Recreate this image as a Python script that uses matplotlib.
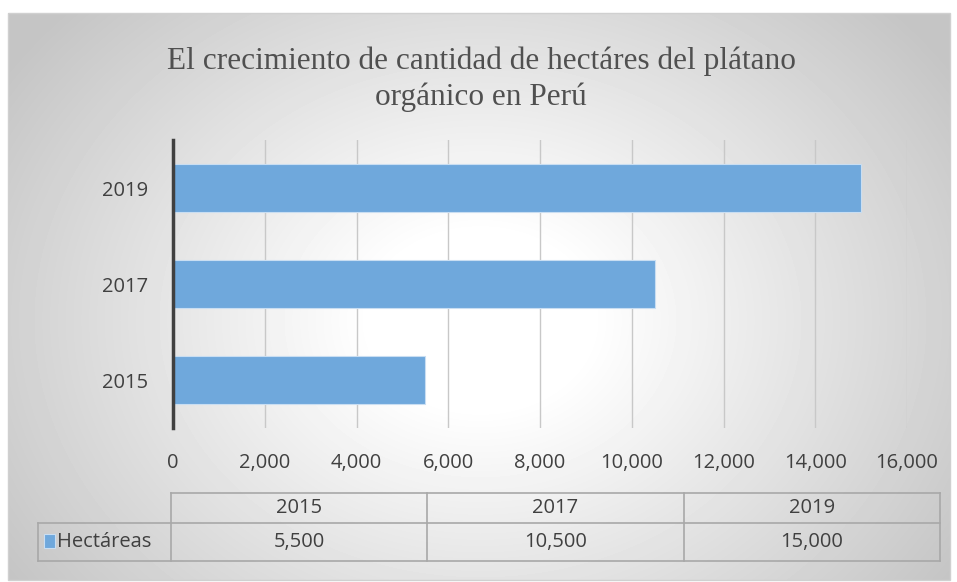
import matplotlib
matplotlib.use("Agg")
import matplotlib.pyplot as plt
import numpy as np
from matplotlib.patches import Rectangle

categories = ["2015", "2017", "2019"]
values = [5500, 10500, 15000]
value_labels = ["5,500", "10,500", "15,000"]
series_name = "Hectáreas"
xticks = [0, 2000, 4000, 6000, 8000, 10000, 12000, 14000, 16000]
title = "El crecimiento de cantidad de hectáres del plátano\norgánico en Perú"

W, H = 957, 582
fig = plt.figure(figsize=(W/100, H/100), dpi=100)
fig.patch.set_facecolor("white")

def fx(px): return px / W
def fy(py): return 1 - py / H

# background gradient frame
fl, ft, fr, fb = 8, 13, 950, 580
bg = fig.add_axes([fx(fl), fy(fb), fx(fr-fl), fy(ft)-fy(fb)], zorder=-5)
yy, xx = np.mgrid[ft:fb, fl:fr]
r = np.hypot((xx - 480) * 1.0, (yy - 320) * 1.25)
v = 1 - 0.23 * np.clip((r - 110) / 460, 0, 1)
bg.imshow(v, cmap="gray", vmin=0, vmax=1, aspect="auto", interpolation="bilinear")
bg.set_axis_off()
fig.patches.append(Rectangle((fx(fl), fy(fb)), fx(fr-fl), fy(ft)-fy(fb),
                             transform=fig.transFigure, fill=False,
                             edgecolor="#d0d0d0", lw=1, zorder=-4))

serif = ["Liberation Serif", "DejaVu Serif"]
sans = ["Open Sans", "DejaVu Sans"]

fig.text(fx(481), fy(79), title, ha="center", va="center", fontsize=22.5,
         family=serif, color="#505050", linespacing=1.28)

L, R, T, B = 173, 907, 140, 428
ax = fig.add_axes([fx(L), fy(B), fx(R-L), fy(T)-fy(B)])
ax.set_facecolor("none")
ypos = np.arange(len(categories))
ax.barh(ypos, values, height=0.49, color="#6fa8dc", edgecolor="#c9def2",
        linewidth=0.8, zorder=3)
ax.set_xlim(0, 16000)
ax.set_ylim(-0.5, 2.5)
ax.set_xticks(xticks)
ax.set_xticklabels([f"{t:,}" for t in xticks])
ax.set_yticks(ypos)
ax.set_yticklabels(categories)
ax.grid(axis="x", color="#c8c8c8", lw=1, zorder=0)
for s in ["top", "right", "bottom"]:
    ax.spines[s].set_visible(False)
ax.spines["left"].set_color("#404040")
ax.spines["left"].set_linewidth(2.5)
ax.spines["left"].set_zorder(4)
ax.tick_params(axis="both", length=0, labelsize=14.5, labelcolor="#404040")
ax.tick_params(axis="x", pad=18)
ax.tick_params(axis="y", pad=18)
for lab in ax.get_xticklabels() + ax.get_yticklabels():
    lab.set_family(sans)

# data table
tc = "#a8a8a8"
col_x = [171, 427, 684, 940]
top, mid, bot = 493, 523, 561
leg_l = 38
def hline(y, x0, x1):
    fig.add_artist(plt.Line2D([fx(x0), fx(x1)], [fy(y), fy(y)], color=tc, lw=1.2))
def vline(x, y0, y1):
    fig.add_artist(plt.Line2D([fx(x), fx(x)], [fy(y0), fy(y1)], color=tc, lw=1.2))
hline(top, col_x[0], col_x[-1])
hline(mid, leg_l, col_x[-1])
hline(bot, leg_l, col_x[-1])
for x in col_x:
    vline(x, top, bot)
vline(leg_l, mid, bot)

for i, c in enumerate(categories):
    cx = (col_x[i] + col_x[i+1]) / 2
    fig.text(fx(cx), fy((top+mid)/2), c, ha="center", va="center",
             fontsize=14.5, family=sans, color="#404040")
    fig.text(fx(cx), fy((mid+bot)/2), value_labels[i], ha="center", va="center",
             fontsize=14.5, family=sans, color="#404040")
fig.patches.append(Rectangle((fx(44), fy(548)), fx(11), fy(534)-fy(548),
                             transform=fig.transFigure, facecolor="#6fa8dc",
                             edgecolor="#c9def2", lw=0.8))
fig.text(fx(57), fy((mid+bot)/2), series_name, ha="left", va="center",
         fontsize=14.5, family=sans, color="#404040")

fig.savefig("out.png", dpi=100)
